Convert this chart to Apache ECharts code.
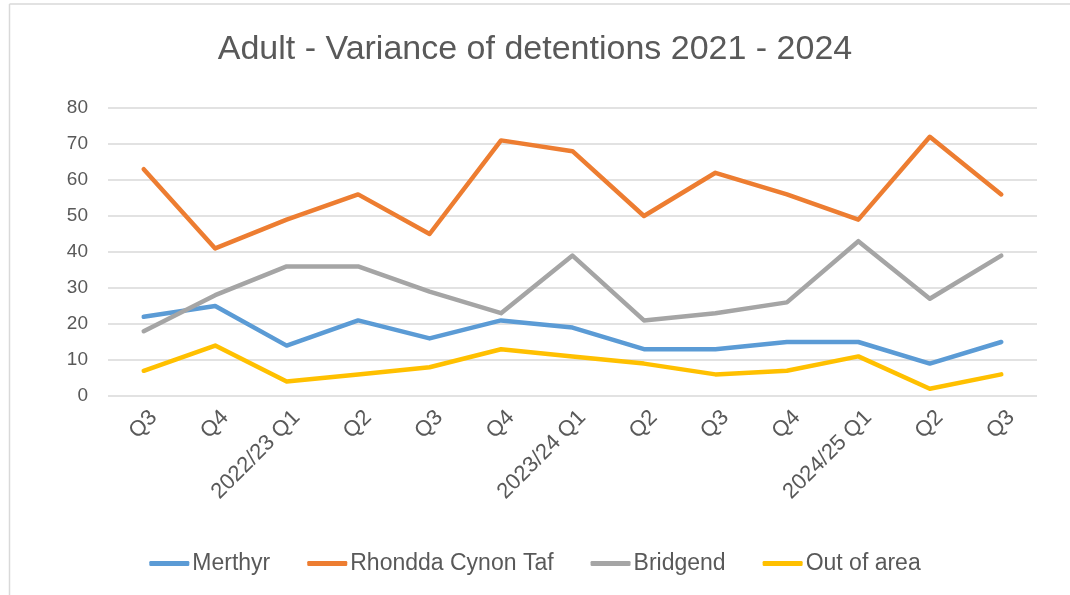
<!DOCTYPE html>
<html>
<head>
<meta charset="utf-8">
<script src="https://cdn.jsdelivr.net/npm/echarts@6/dist/echarts.min.js"></script>
<style>
  html, body { margin: 0; padding: 0; background: #fff; }
  #main { width: 1070px; height: 595px; }
</style>
</head>
<body>
<div id="main"></div>
<script>
// quarters from 2021/22 Q3 to 2024/25 Q3
var quarters = ["Q3", "Q4", "2022/23 Q1", "Q2", "Q3", "Q4", "2023/24 Q1", "Q2", "Q3", "Q4", "2024/25 Q1", "Q2", "Q3"];
var merthyr = [22, 25, 14, 21, 16, 21, 19, 13, 13, 15, 15, 9, 15];
var rct = [63, 41, 49, 56, 45, 71, 68, 50, 62, 56, 49, 72, 56];
var bridgend = [18, 28, 36, 36, 29, 23, 39, 21, 23, 26, 43, 27, 39];
var outOfArea = [7, 14, 4, 6, 8, 13, 11, 9, 6, 7, 11, 2, 6];

var font = "'Liberation Sans', Arial, sans-serif";
var chart = echarts.init(document.getElementById("main"));

function line(name, data, color) {
  return {
    name: name,
    type: "line",
    data: data,
    symbol: "none",
    lineStyle: { color: color, width: 4.5, cap: "round", join: "round" },
    itemStyle: { color: color },
    animation: false
  };
}

var option = {
  backgroundColor: "#fff",
  title: {
    text: "Adult - Variance of detentions 2021 - 2024",
    left: "center",
    top: 28,
    textStyle: { fontFamily: font, fontSize: 34, fontWeight: "normal", color: "#595959" }
  },
  legend: {
    bottom: 15,
    left: "center",
    itemWidth: 40,
    itemHeight: 5,
    itemGap: 37,
    icon: "roundRect",
    textStyle: { fontFamily: font, fontSize: 23, color: "#595959", padding: [0, 0, 0, -2] },
    data: ["Merthyr", "Rhondda Cynon Taf", "Bridgend", "Out of area"]
  },
  grid: { left: 108, right: 33, top: 108, height: 288, containLabel: false },
  xAxis: {
    type: "category",
    data: quarters,
    boundaryGap: true,
    axisLine: { show: false },
    axisTick: { show: false },
    axisLabel: {
      rotate: 45,
      interval: 0,
      margin: 28,
      padding: [0, -14, 0, 0],
      fontFamily: font,
      fontSize: 22,
      color: "#595959"
    }
  },
  yAxis: {
    type: "value",
    min: 0,
    max: 80,
    interval: 10,
    axisLine: { show: false },
    axisTick: { show: false },
    axisLabel: { fontFamily: font, fontSize: 19, color: "#595959", margin: 20 },
    splitLine: { lineStyle: { color: "#d9d9d9", width: 1.5 } }
  },
  graphic: [
    { type: "line", shape: { x1: 9.5, y1: 4, x2: 1070, y2: 4 }, style: { stroke: "#d9d9d9", lineWidth: 1.5 } },
    { type: "line", shape: { x1: 9.5, y1: 4, x2: 9.5, y2: 595 }, style: { stroke: "#d9d9d9", lineWidth: 1.5 } }
  ],
  series: [
    line("Merthyr", merthyr, "#5b9bd5"),
    line("Rhondda Cynon Taf", rct, "#ed7d31"),
    line("Bridgend", bridgend, "#a5a5a5"),
    line("Out of area", outOfArea, "#ffc000")
  ]
};

chart.setOption(option);
</script>
</body>
</html>
